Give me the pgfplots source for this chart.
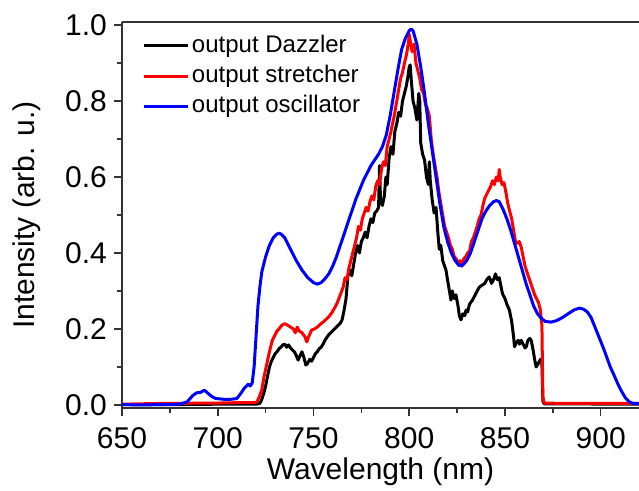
\documentclass[border=0pt]{standalone}
\usepackage{pgfplots}
\pgfplotsset{compat=1.18}
\usepackage{fontspec}
\setmainfont{Liberation Sans}

\begin{document}
\begin{tikzpicture}
\begin{axis}[
    scale only axis,
    width=258.5pt, height=193pt,
    xmin=650, xmax=920,
    ymin=-0.008, ymax=1.008,
    axis x line*=bottom,
    axis y line*=left,
    axis line style={black!80, line width=1pt},
    xtick={650,700,750,800,850,900},
    ytick={0,0.2,0.4,0.6,0.8,1.0},
    minor x tick num=1,
    minor y tick num=1,
    tick align=outside,
    major tick length=4pt,
    minor tick length=2.5pt,
    tick style={black!80, line width=0.8pt},
    ticklabel style={font=\fontsize{15}{18}\selectfont},
    /pgf/number format/assume math mode=true,
    yticklabel style={/pgf/number format/.cd, fixed, fixed zerofill, precision=1},
    xticklabel style={yshift=-2pt, /pgf/number format/.cd, set thousands separator={}},
    xlabel={Wavelength (nm)},
    ylabel={Intensity (arb. u.)},
    label style={font=\fontsize{15}{18}\selectfont},
    xlabel style={at={(axis description cs:0.5,-0.166)}, anchor=center},
    ylabel style={at={(axis description cs:-0.184,0.5)}, anchor=center},
    legend style={draw=none, fill=none, at={(rel axis cs:0,1)}, anchor=north west,
        xshift=7pt, yshift=-4pt, font=\fontsize{12}{14}\selectfont,
        row sep=3.6pt, nodes={inner xsep=1.3pt, inner ysep=0pt, text height=9pt, text depth=2.5pt}},
    legend cell align=left,
    legend image code/.code={\draw[#1, line width=1.5pt] (0pt,0pt) -- (22pt,0pt);},
    every axis plot/.append style={line width=1.5pt, line join=round},
]

% output Dazzler
\addplot[black, no markers] coordinates {
(650,0.001)(680,0.001)(700,0.002)(720,0.002)(722,0.004)(723,0.015)(724,0.03)(725,0.05)
(726,0.075)(727,0.10)(728,0.115)(729,0.125)(730,0.135)(731,0.14)(732,0.148)(733,0.152)
(734,0.158)(735,0.16)(736,0.152)(737,0.158)(738,0.15)(739,0.145)(740,0.14)(741,0.13)
(742,0.118)(743,0.13)(744,0.14)(745,0.125)(746,0.105)(747,0.11)(748,0.12)(749,0.115)
(750,0.125)(751,0.135)(752,0.14)(753,0.148)(754,0.152)(755,0.16)(756,0.17)(757,0.178)
(758,0.185)(759,0.19)(760,0.195)(761,0.2)(762,0.205)(763,0.21)(764,0.215)(765,0.225)
(766,0.25)(767,0.28)(768,0.34)(769,0.355)(770,0.34)(771,0.37)(772,0.40)(773,0.42)
(774,0.40)(775,0.43)(776,0.44)(777,0.455)(778,0.44)(779,0.47)(780,0.49)(781,0.48)
(782,0.505)(783,0.51)(784,0.52)(784.5,0.63)(785,0.54)(786,0.525)(787,0.55)(787.8,0.60)
(788.5,0.58)(789.5,0.65)(790.5,0.68)(791.5,0.66)(792.5,0.72)(793.5,0.74)(794.5,0.77)
(795.5,0.76)(796.5,0.80)(797.5,0.82)(798.5,0.84)(799.5,0.87)(800,0.89)(800.5,0.895)
(801,0.86)(802,0.80)(803,0.78)(804,0.75)(805,0.82)(805.5,0.80)(806,0.69)(807,0.66)
(808,0.645)(809,0.60)(810,0.58)(810.5,0.64)(811,0.59)(812,0.54)(813,0.505)(814,0.52)
(815,0.45)(815.7,0.41)(816.5,0.42)(817.5,0.38)(818.5,0.365)(819.2,0.355)(820,0.33)
(821,0.30)(821.8,0.276)(822.5,0.30)(823.5,0.28)(824.4,0.29)(825.5,0.26)(826.2,0.235)
(827,0.224)(828,0.24)(829,0.235)(829.7,0.25)(830.5,0.245)(831.5,0.265)(833,0.276)
(834.5,0.29)(835.5,0.30)(836.6,0.31)(838,0.315)(839.5,0.32)(840.5,0.33)(841.8,0.337)
(843,0.32)(844.5,0.335)(845,0.345)(846,0.33)(847,0.335)(848,0.31)(848.7,0.293)
(850,0.28)(851,0.265)(852.3,0.25)(853.5,0.22)(854.5,0.18)(855,0.153)(856,0.165)
(857,0.17)(857.6,0.16)(858.5,0.17)(859.5,0.16)(860.5,0.15)(861.1,0.153)(862,0.17)
(863,0.175)(863.7,0.17)(864.5,0.15)(865.5,0.12)(866.3,0.10)(867.5,0.11)(868.5,0.12)
(869.3,0.11)(869.8,0.01)(870.5,0.003)(920,0.002)
};
\addlegendentry{output Dazzler}

% output stretcher
\addplot[red, no markers] coordinates {
(650,0.002)(660,0.003)(670,0.004)(680,0.004)(690,0.005)(700,0.005)(710,0.006)(719,0.006)
(720.5,0.008)(722,0.025)(723,0.04)(724,0.07)(725.5,0.105)(727,0.14)(728.5,0.17)
(730,0.185)(731,0.195)(732,0.20)(733.5,0.21)(735,0.214)(736.5,0.21)(738,0.205)
(739.5,0.20)(740.5,0.19)(741.5,0.205)(742.5,0.195)(744,0.19)(745.5,0.18)(746.5,0.166)
(747.5,0.18)(749,0.197)(750.5,0.20)(752,0.205)(753.5,0.212)(755,0.218)(756.5,0.225)
(758,0.232)(759.5,0.242)(761,0.255)(762.5,0.27)(764,0.29)(765.5,0.31)(766.5,0.335)
(767.5,0.33)(768.5,0.36)(769.5,0.38)(770.5,0.40)(771.5,0.42)(772.5,0.44)(773.5,0.47)
(774.5,0.46)(775.5,0.49)(776.5,0.505)(777.5,0.52)(778.5,0.51)(779.5,0.535)(780.5,0.55)
(781.5,0.54)(782.5,0.575)(783.5,0.59)(784.5,0.58)(785.5,0.62)(786.5,0.64)(787.5,0.63)
(788.5,0.68)(789.5,0.70)(790.5,0.72)(791.5,0.745)(792.5,0.77)(793.5,0.80)(794.5,0.83)
(795.5,0.86)(796.5,0.875)(797.5,0.90)(798.5,0.92)(799.5,0.95)(800,0.975)(800.5,0.96)
(801.5,0.93)(802.5,0.95)(803.5,0.90)(804.5,0.88)(805.5,0.86)(806.5,0.83)(807.5,0.82)
(808.5,0.79)(809.5,0.78)(810.5,0.76)(811.5,0.70)(812.5,0.66)(813.5,0.63)(814.5,0.60)
(815.5,0.56)(816.5,0.53)(817.5,0.50)(818.5,0.47)(819.5,0.455)(820.5,0.44)(821.5,0.42)
(822.5,0.41)(823.5,0.39)(824.5,0.385)(825.5,0.37)(826.5,0.38)(827.5,0.365)(828.5,0.385)
(829.5,0.39)(830.5,0.40)(831.5,0.405)(832.5,0.43)(833.5,0.44)(834.5,0.455)(835.5,0.47)
(836.5,0.49)(837.5,0.50)(838.5,0.525)(839.5,0.545)(840.5,0.555)(841.5,0.565)(842.5,0.575)
(843.5,0.59)(844.5,0.58)(845.5,0.60)(846.5,0.59)(847,0.62)(847.5,0.60)(848.5,0.58)
(849.5,0.585)(850.5,0.56)(851.5,0.53)(852.5,0.51)(853.5,0.49)(854.5,0.46)(855.5,0.43)
(856.5,0.425)(857.5,0.43)(858.5,0.415)(859.5,0.39)(860.5,0.365)(861.5,0.35)(862.5,0.335)
(863.5,0.32)(864.5,0.305)(865.5,0.29)(866.5,0.28)(867.5,0.27)(868.5,0.25)(869.3,0.21)
(869.8,0.02)(870.5,0.005)(880,0.004)(900,0.004)(920,0.004)
};
\addlegendentry{output stretcher}

% output oscillator
\addplot[blue, no markers] coordinates {
(650,0.001)(660,0.000)(670,0.001)(680,0.002)(684,0.008)(687,0.025)(689,0.032)(691,0.033)
(693,0.039)(695,0.030)(697,0.022)(699,0.017)(703,0.015)(707,0.015)(710,0.017)(712,0.030)
(714,0.045)(716,0.055)(717,0.050)(718,0.058)(719,0.10)(720,0.18)(721,0.26)(722,0.31)
(723,0.35)(725,0.39)(727,0.42)(729,0.44)(731,0.45)(732,0.452)(733,0.45)(735,0.44)
(738,0.41)(741,0.38)(744,0.355)(747,0.335)(750,0.322)(752,0.318)(754,0.322)(756,0.332)
(758,0.345)(760,0.365)(762,0.39)(764,0.42)(766,0.45)(768,0.48)(770,0.51)(772,0.54)
(774,0.565)(776,0.59)(778,0.61)(780,0.63)(782,0.645)(784,0.66)(786,0.68)(788,0.71)
(790,0.76)(792,0.82)(794,0.88)(796,0.935)(798,0.965)(800,0.985)(801,0.99)(802,0.985)
(804,0.95)(806,0.89)(808,0.82)(810,0.74)(812,0.67)(814,0.60)(816,0.53)(818,0.47)
(820,0.43)(822,0.40)(824,0.38)(826,0.367)(828,0.368)(830,0.38)(832,0.40)(834,0.43)
(836,0.46)(838,0.49)(840,0.51)(842,0.525)(844,0.535)(845.5,0.538)(847,0.535)(849,0.515)
(851,0.49)(853,0.46)(855,0.425)(857,0.39)(859,0.355)(861,0.32)(863,0.29)(865,0.26)
(867,0.24)(869,0.228)(871,0.22)(874,0.218)(877,0.222)(880,0.23)(883,0.24)(886,0.25)
(889,0.255)(891,0.252)(893,0.245)(895,0.23)(897,0.205)(899,0.18)(901,0.155)(903,0.128)
(905,0.10)(907,0.078)(909,0.055)(911,0.035)(913,0.018)(915,0.008)(917,0.004)(920,0.003)
};
\addlegendentry{output oscillator}

\draw[black!80, line width=1pt] (rel axis cs:0,1) -- (rel axis cs:1,1);
\end{axis}
\pgfresetboundingbox
\path (-61pt,-41.5pt) rectangle (258.5pt,204pt);
\end{tikzpicture}
\end{document}
